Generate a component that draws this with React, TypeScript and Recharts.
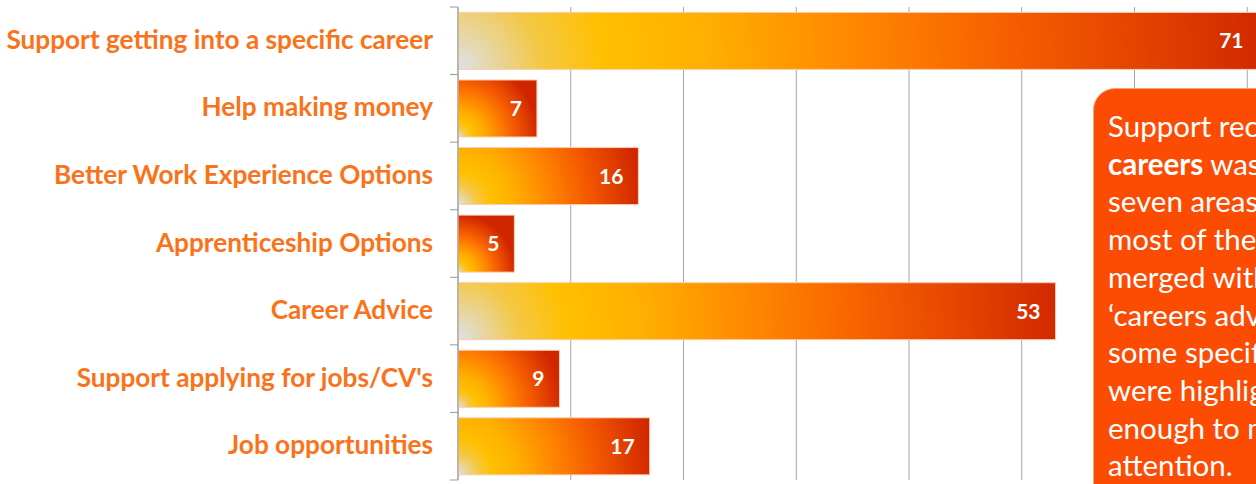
import { Bar, BarChart, CartesianGrid, LabelList, XAxis, YAxis } from 'recharts';

const categories = [
  'Support getting into a specific career',
  'Help making money',
  'Better Work Experience Options',
  'Apprenticeship Options',
  'Career Advice',
  "Support applying for jobs/CV's",
  'Job opportunities',
];
const counts = [71, 7, 16, 5, 53, 9, 17];
const xTicks = [0, 10, 20, 30, 40, 50, 60, 70, 80];
const noteLines = [
  'Support received for',
  'careers was one of the',
  'seven areas where',
  'most of the comments',
  'merged with',
  '\u2018careers advice\u2019, though',
  'some specific needs',
  'were highlighted',
  'enough to merit',
  'attention.',
];

const data = categories.map((name, i) => ({ name, count: counts[i] }));

const TOP = 7;
const BOTTOM = 480;
const BAND = (BOTTOM - TOP) / categories.length;

// Excel-like "from corner" fill: circle grows from the bottom-left corner, sized by bar length
function GlowBar(props: any) {
  const { x, y, width, height, index } = props;
  if (!width || width <= 0) return null;
  const id = `glow-${index}`;
  return (
    <g>
      <defs>
        <radialGradient id={id} gradientUnits='userSpaceOnUse' cx={x} cy={y + height} r={width * 1.02}>
          <stop offset='0' stopColor='#DDE1EA' />
          <stop offset='0.1' stopColor='#F4C846' />
          <stop offset='0.18' stopColor='#FFC000' />
          <stop offset='0.3' stopColor='#FFB000' />
          <stop offset='0.5' stopColor='#FF8400' />
          <stop offset='0.7' stopColor='#F45A00' />
          <stop offset='0.85' stopColor='#E24000' />
          <stop offset='1' stopColor='#D02600' />
        </radialGradient>
      </defs>
      <rect x={x} y={y} width={width} height={height} fill={`url(#${id})`} stroke='#F9CDB0' strokeWidth={1} />
    </g>
  );
}

function CategoryTick(props: any) {
  const { x, y, payload, index } = props;
  return (
    <g>
      <line x1={x - 8} x2={x} y1={y - BAND / 2} y2={y - BAND / 2} stroke='#999' />
      {index === categories.length - 1 && (
        <line x1={x - 8} x2={x} y1={y + BAND / 2} y2={y + BAND / 2} stroke='#999' />
      )}
      <text
        x={x - 25}
        y={y}
        dy={8}
        textAnchor='end'
        fill='#FA7219'
        fontFamily='Lato'
        fontWeight={700}
        fontSize={26.2}
      >
        {payload.value}
      </text>
    </g>
  );
}

export default function App() {
  return (
    <div
      style={{
        position: 'absolute',
        left: 0,
        top: 0,
        width: 1256,
        height: 484,
        overflow: 'hidden',
        background: '#fff',
      }}
    >
      <BarChart
        width={1360}
        height={484}
        data={data}
        layout='vertical'
        margin={{ top: TOP, right: 0, bottom: 484 - BOTTOM, left: 0 }}
        barCategoryGap='8%'
      >
        <CartesianGrid horizontal={false} stroke='#A6A6A6' />
        <XAxis type='number' domain={[0, 80]} ticks={xTicks} hide />
        <YAxis
          type='category'
          dataKey='name'
          width={458}
          axisLine={{ stroke: '#999' }}
          tickLine={false}
          tickSize={0}
          tickMargin={0}
          tick={<CategoryTick />}
          interval={0}
        />
        <Bar dataKey='count' shape={<GlowBar />} isAnimationActive={false}>
          <LabelList
            dataKey='count'
            position='insideRight'
            offset={15}
            fill='#fff'
            fontFamily='Lato'
            fontWeight={700}
            fontSize={21}
          />
        </Bar>
      </BarChart>
      <div
        style={{
          position: 'absolute',
          left: 1093,
          top: 88,
          width: 360,
          height: 430,
          background: '#FC4C04',
          borderRadius: 22,
          border: '1px solid #F9A47A',
          boxSizing: 'border-box',
          padding: '18px 0 0 14px',
          color: '#fff',
          fontFamily: 'Lato',
          fontSize: 29.5,
          lineHeight: '37.7px',
          whiteSpace: 'nowrap',
        }}
      >
        {noteLines.map((line, i) => (
          <div key={i}>
            {i === 1 ? (
              <>
                <b>careers</b>
                {line.slice(7)}
              </>
            ) : (
              line
            )}
          </div>
        ))}
      </div>
    </div>
  );
}
